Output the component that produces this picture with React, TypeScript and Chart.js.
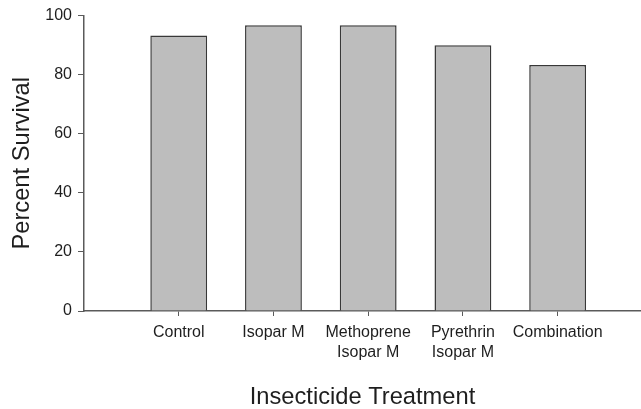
import React, { useEffect, useRef } from "react";
import { Chart, registerables } from "chart.js";

Chart.register(...registerables);

const CATEGORIES: string[][] = [
  ["Control"],
  ["Isopar M"],
  ["Methoprene", "Isopar M"],
  ["Pyrethrin", "Isopar M"],
  ["Combination"],
];
const SURVIVAL: number[] = [93.3, 96.7, 96.7, 90.0, 83.3];
const Y_TICKS: number[] = [0, 20, 40, 60, 80, 100];

const FONT = "'Liberation Sans', Arial, Helvetica, sans-serif";
const AXIS = "#5a5a5a";
const TEXT = "#1e1e1e";

export default function App() {
  const ref = useRef<HTMLCanvasElement | null>(null);

  useEffect(() => {
    if (!ref.current) return;
    const chart = new Chart(ref.current, {
      type: "bar",
      data: {
        datasets: [
          {
            data: SURVIVAL.map((v, i) => ({ x: i + 1, y: v })),
            backgroundColor: "#bdbdbd",
            borderColor: "#383838",
            borderWidth: 1.5,
            categoryPercentage: 1,
            barPercentage: 0.6,
          },
        ],
      },
      options: {
        animation: false,
        responsive: true,
        maintainAspectRatio: false,
        layout: { padding: { top: 15, right: 0, bottom: 0, left: 0 } },
        plugins: {
          legend: { display: false },
          tooltip: { enabled: false },
        },
        scales: {
          x: {
            type: "linear",
            min: 0,
            max: 5.88,
            offset: false,
            afterBuildTicks: (scale: any) => {
              scale.ticks = CATEGORIES.map((_, i) => ({ value: i + 1 }));
            },
            afterFit: (scale: any) => {
              scale.height = 98;
            },
            grid: {
              display: true,
              offset: false,
              drawOnChartArea: false,
              drawTicks: true,
              tickLength: 5,
              color: AXIS,
              tickWidth: 1,
            },
            border: { display: true, color: AXIS, width: 1.5 },
            ticks: {
              autoSkip: false,
              maxRotation: 0,
              padding: 7,
              color: TEXT,
              font: { family: FONT, size: 16, lineHeight: 1.25 },
              callback: (value: any) => CATEGORIES[Number(value) - 1] ?? "",
            },
            title: {
              display: true,
              text: "Insecticide Treatment",
              color: TEXT,
              font: { family: FONT, size: 23.7, lineHeight: 1 },
              padding: { top: 0, bottom: 0 },
            },
          },
          y: {
            min: 0,
            max: 100,
            afterBuildTicks: (scale: any) => {
              scale.ticks = Y_TICKS.map((v) => ({ value: v }));
            },
            afterFit: (scale: any) => {
              scale.width = 84;
            },
            grid: {
              display: true,
              drawOnChartArea: false,
              drawTicks: true,
              tickLength: 6,
              color: AXIS,
              tickWidth: 1,
            },
            border: { display: true, color: AXIS, width: 1.5 },
            ticks: {
              padding: 6,
              color: TEXT,
              font: { family: FONT, size: 16 },
            },
            title: {
              display: true,
              text: "Percent Survival",
              color: TEXT,
              font: { family: FONT, size: 23.7 },
              padding: { top: 8, bottom: 0 },
            },
          },
        },
      },
    } as any);
    return () => chart.destroy();
  }, []);

  return (
    <div
      style={{
        position: "fixed",
        left: 0,
        top: 0,
        width: 641,
        height: 409,
        background: "#fff",
      }}
    >
      <canvas ref={ref} />
    </div>
  );
}
